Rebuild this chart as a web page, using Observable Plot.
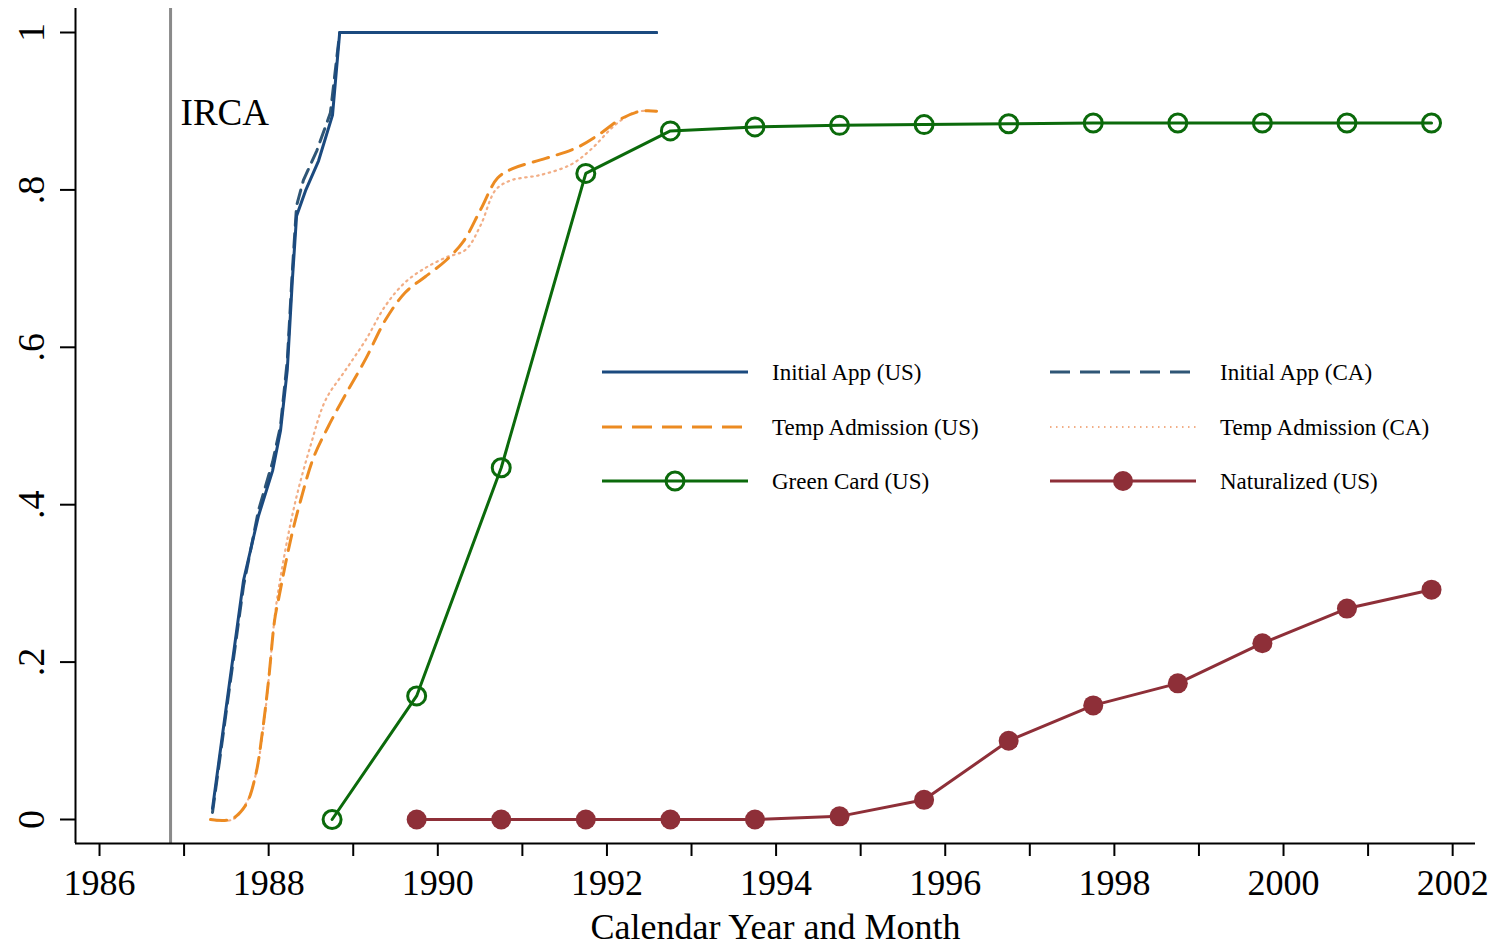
<!DOCTYPE html>
<html><head><meta charset="utf-8">
<script src="https://cdn.jsdelivr.net/npm/d3@7"></script>
<script src="https://cdn.jsdelivr.net/npm/@observablehq/plot@0.6"></script>
<style>
body{margin:0;background:#fff;}
#wrap{position:relative;width:1496px;height:947px;overflow:hidden;}
#legend{position:absolute;left:0;top:0;pointer-events:none;}
</style></head><body><div id="wrap"></div>
<script>
// ---- data ----
const initUSx = [1987.336, 1987.525, 1987.703, 1987.88, 1988.046, 1988.14, 1988.22, 1988.28, 1988.33, 1988.436, 1988.59, 1988.755, 1988.84, 1992.587];
const initUSy = [0.014, 0.164, 0.304, 0.386, 0.443, 0.494, 0.571, 0.685, 0.767, 0.799, 0.837, 0.895, 1.0, 1.0];
const initCAx = [1987.336, 1987.525, 1987.703, 1987.88, 1988.046, 1988.14, 1988.22, 1988.28, 1988.33, 1988.41, 1988.57, 1988.73, 1988.84, 1992.587];
const initCAy = [0.009, 0.158, 0.297, 0.393, 0.454, 0.50, 0.583, 0.697, 0.78, 0.812, 0.85, 0.898, 1.0, 1.0];
const tempUSx = [1987.313, 1987.549, 1987.727, 1987.845, 1987.928, 1987.999, 1988.07, 1988.117, 1988.259, 1988.377, 1988.531, 1988.708, 1988.909, 1989.146, 1989.382, 1989.618, 1989.855, 1990.092, 1990.305, 1990.506, 1990.707, 1990.884, 1991.274, 1991.629, 1991.901, 1992.161, 1992.398, 1992.587];
const tempUSy = [0, 0, 0.018, 0.056, 0.113, 0.177, 0.253, 0.28, 0.355, 0.405, 0.46, 0.50, 0.54, 0.585, 0.635, 0.67, 0.69, 0.71, 0.735, 0.775, 0.815, 0.827, 0.84, 0.853, 0.87, 0.89, 0.90, 0.90];
const tempCAx = [1987.313, 1987.573, 1987.75, 1987.857, 1987.94, 1988.01, 1988.08, 1988.176, 1988.318, 1988.495, 1988.673, 1988.909, 1989.146, 1989.382, 1989.618, 1989.855, 1990.092, 1990.329, 1990.506, 1990.684, 1990.861, 1991.216, 1991.57, 1991.807, 1992.102, 1992.339, 1992.587];
const tempCAy = [0, 0, 0.024, 0.062, 0.119, 0.189, 0.265, 0.33, 0.405, 0.475, 0.533, 0.571, 0.609, 0.653, 0.683, 0.701, 0.714, 0.724, 0.755, 0.8, 0.812, 0.819, 0.832, 0.851, 0.883, 0.899, 0.90];
const greenX = [1988.75, 1989.75, 1990.75, 1991.75, 1992.75, 1993.75, 1994.75, 1995.75, 1996.75, 1997.75, 1998.75, 1999.75, 2000.75, 2001.75];
const greenY = [0, 0.157, 0.447, 0.821, 0.875, 0.880, 0.882, 0.883, 0.884, 0.885, 0.885, 0.885, 0.885, 0.885];
const natX = [1989.75, 1990.75, 1991.75, 1992.75, 1993.75, 1994.75, 1995.75, 1996.75, 1997.75, 1998.75, 1999.75, 2000.75, 2001.75];
const natY = [0, 0, 0, 0, 0, 0.004, 0.025, 0.10, 0.145, 0.173, 0.224, 0.268, 0.292];
const xTicks = d3.range(1986, 2003);
const yTicks = [0, 0.2, 0.4, 0.6, 0.8, 1];
const yTickLabels = ["0", ".2", ".4", ".6", ".8", "1"];
const ircaYear = [1986.84];
const ircaLabel = [{x: 1986.84, y: 0.897, text: "IRCA"}];
const xLabel = "Calendar Year and Month";
const legendLabels = ["Initial App (US)", "Initial App (CA)", "Temp Admission (US)", "Temp Admission (CA)", "Green Card (US)", "Naturalized (US)"];

// ---- styles ----
const C = {initUS: "#1b4a7f", initCA: "#2f5676", tempUS: "#ec8b22", tempCA: "#f2ae86", green: "#0b6a0b", nat: "#8e2f38"};
const FONT = "'Liberation Serif', 'DejaVu Serif', serif";
const xDomain = [1985.716, 2002.27];
const yDomain = [-0.0305, 1.0305];

const zip = (xs, ys) => xs.map((x, i) => ({x, y: ys[i]}));
const initUS = zip(initUSx, initUSy), initCA = zip(initCAx, initCAy);
const tempUS = zip(tempUSx, tempUSy), tempCA = zip(tempCAx, tempCAy);
const green = zip(greenX, greenY), nat = zip(natX, natY);

const plot = Plot.plot({
  width: 1496, height: 947,
  marginLeft: 75, marginRight: 21, marginTop: 8, marginBottom: 104,
  style: {fontFamily: FONT, color: "#000", background: "#fff", overflow: "visible"},
  x: {domain: xDomain},
  y: {domain: yDomain},
  marks: [
    Plot.ruleX(ircaYear, {x: d => d, stroke: "#8a8a8a", strokeWidth: 3}),
    Plot.text(ircaLabel, {x: "x", y: "y", text: "text", dx: 10, textAnchor: "start", fontSize: 37, fill: "#000"}),
    Plot.line(tempCA, {x: "x", y: "y", stroke: C.tempCA, strokeWidth: 2.2, strokeDasharray: "1.5,4.5", curve: "catmull-rom"}),
    Plot.line(tempUS, {x: "x", y: "y", stroke: C.tempUS, strokeWidth: 3, strokeDasharray: "16,9", curve: "catmull-rom"}),
    Plot.line(initCA, {x: "x", y: "y", stroke: C.initCA, strokeWidth: 3, strokeDasharray: "14,8"}),
    Plot.line(initUS, {x: "x", y: "y", stroke: C.initUS, strokeWidth: 3}),
    Plot.line(green, {x: "x", y: "y", stroke: C.green, strokeWidth: 3}),
    Plot.dot(green, {x: "x", y: "y", r: 9, stroke: C.green, strokeWidth: 3, fill: "none"}),
    Plot.line(nat, {x: "x", y: "y", stroke: C.nat, strokeWidth: 3}),
    Plot.dot(nat, {x: "x", y: "y", r: 10, fill: C.nat, stroke: "none"}),
    Plot.ruleX([xDomain[0]], {x: d => d, stroke: "#000", strokeWidth: 2}),
    Plot.ruleY([yDomain[0]], {y: d => d, stroke: "#000", strokeWidth: 2}),
    Plot.axisX({ticks: xTicks, tickFormat: d => d % 2 === 0 ? String(d) : "", tickSize: 13, tickPadding: 13, fontSize: 36, strokeWidth: 2,
      label: xLabel, labelAnchor: "center", labelOffset: 95, labelArrow: "none"}),
    Plot.axisY({ticks: yTicks, tickFormat: (d, i) => yTickLabels[i], tickSize: 15, tickPadding: 17, tickRotate: -90, fontSize: 38, strokeWidth: 2, label: null})
  ]
});
const wrap = document.getElementById("wrap");
wrap.appendChild(plot);

// ---- legend overlay ----
const items = [
  {label: legendLabels[0], stroke: C.initUS, dash: null, width: 3},
  {label: legendLabels[1], stroke: C.initCA, dash: "20,10", width: 3},
  {label: legendLabels[2], stroke: C.tempUS, dash: "20,10", width: 3},
  {label: legendLabels[3], stroke: C.tempCA, dash: "1.5,4.5", width: 2.2},
  {label: legendLabels[4], stroke: C.green, dash: null, width: 3, marker: "open"},
  {label: legendLabels[5], stroke: C.nat, dash: null, width: 3, marker: "filled"}
];
const colX = [602, 1050], rowY = [372, 427, 481], sampleLen = 146, textGap = 170;
const svg = d3.select(wrap).append("svg").attr("id", "legend").attr("width", 1496).attr("height", 947);
items.forEach((it, i) => {
  const cx = colX[i % 2], cy = rowY[Math.floor(i / 2)];
  const g = svg.append("g");
  g.append("line").attr("x1", cx).attr("x2", cx + sampleLen).attr("y1", cy).attr("y2", cy)
    .attr("stroke", it.stroke).attr("stroke-width", it.width).attr("stroke-dasharray", it.dash);
  if (it.marker === "open") g.append("circle").attr("cx", cx + sampleLen / 2).attr("cy", cy).attr("r", 9).attr("fill", "none").attr("stroke", it.stroke).attr("stroke-width", 3);
  if (it.marker === "filled") g.append("circle").attr("cx", cx + sampleLen / 2).attr("cy", cy).attr("r", 10).attr("fill", it.stroke);
  g.append("text").attr("x", cx + textGap).attr("y", cy).attr("dy", "0.35em").attr("font-family", FONT).attr("font-size", 23).attr("fill", "#000").text(it.label);
});
</script></body></html>
